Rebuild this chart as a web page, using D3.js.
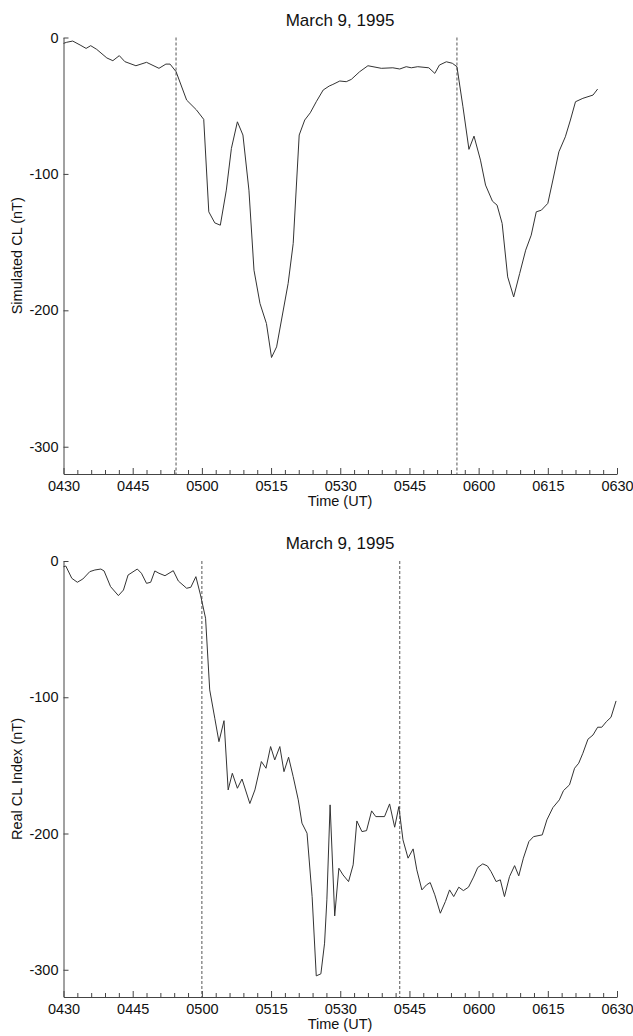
<!DOCTYPE html>
<html>
<head>
<meta charset="utf-8">
<script src="https://cdn.jsdelivr.net/npm/d3@7"></script>
<style>
  html, body { margin: 0; padding: 0; background: #fff; }
  svg { display: block; }
  text { font-family: "Liberation Sans", Arial, Helvetica, sans-serif; fill: #111; }
</style>
</head>
<body>
<svg id="chart" width="633" height="1036"></svg>
<script>
// ---------- DATA ----------
const titleText = "March 9, 1995";
const xLabelText = "Time (UT)";
const yLabelTop = "Simulated CL (nT)";
const yLabelBottom = "Real CL Index (nT)";

// x tick labels (UT), positions in minutes of day
const xTickLabels = ["0430", "0445", "0500", "0515", "0530", "0545", "0600", "0615", "0630"];
const yTickValues = [0, -100, -200, -300];

// Simulated CL: time (minutes of day) and value (nT)
const simTime = [270.0, 270.7, 272.0, 273.6, 274.9, 275.9, 277.2, 279.4, 280.7, 282.1,
  283.3, 285.7, 288.0, 290.7, 292.2, 293.1, 294.4, 296.7, 298.8, 300.4,
  301.5, 302.8, 304.0, 305.3, 306.4, 307.7, 308.9, 310.2, 311.3, 312.6,
  314.0, 315.1, 316.2, 318.7, 319.8, 321.1, 322.3, 323.5, 324.8, 326.3,
  327.6, 328.4, 329.9, 331.3, 332.4, 334.2, 336.0, 338.9, 341.4, 342.9,
  344.3, 345.4, 346.8, 349.2, 350.5, 351.5, 353.0, 354.3, 355.3, 356.6,
  357.9, 359.0, 360.4, 361.5, 363.0, 364.0, 365.1, 366.3, 367.6, 368.9,
  370.2, 371.4, 372.5, 373.6, 375.0, 376.1, 377.4, 378.8, 379.9, 381.0,
  382.6, 384.8, 385.8];
const simCL = [-4.3, -3.5, -2.6, -5.5, -8, -6, -8.7, -15, -17, -13.3,
  -17.7, -20.7, -18.2, -22.6, -19.5, -19.5, -25, -45.9, -53, -60,
  -127.8, -135.9, -137.6, -111.9, -81.3, -61.8, -71.5, -111.9, -170.6, -195,
  -209.7, -234.6, -226.8, -180.3, -151, -71.5, -60.5, -55.2, -47.1, -38.5,
  -35.6, -34.4, -31.9, -32.4, -30.7, -25.1, -20.7, -22.6, -22.2, -23.1,
  -21.4, -22.2, -21.4, -22.2, -26.3, -20.2, -17.8, -18.9, -21.4, -50.8,
  -82, -72.3, -89.9, -108.2, -120, -122.9, -136.3, -175.5, -190.2, -173,
  -155.9, -144.9, -127.8, -126.6, -121.6, -104.5, -83.8, -72.8, -60.5, -47.1,
  -44.6, -42.2, -37.8];

// Real CL index: time (minutes of day) and value (nT)
const realTime = [270.0, 270.5, 271.8, 273.0, 274.2, 275.7, 276.8, 278.1, 278.8, 280.2,
  281.9, 283.0, 284.0, 286.0, 286.9, 288.0, 288.9, 289.8, 290.7, 292.0,
  293.8, 294.9, 296.7, 297.6, 298.7, 299.7, 300.8, 301.7, 302.8, 303.7,
  304.8, 305.7, 306.6, 307.7, 308.7, 310.4, 311.5, 312.9, 313.9, 314.9,
  315.8, 316.9, 317.8, 318.8, 319.8, 320.9, 321.7, 322.8, 323.9, 324.8,
  325.8, 326.6, 327.1, 327.8, 328.8, 329.7, 330.6, 331.8, 332.8, 333.6,
  334.7, 335.7, 336.8, 337.7, 339.6, 340.7, 341.8, 342.7, 343.6, 344.7,
  345.8, 346.6, 347.7, 348.7, 349.5, 350.5, 351.7, 352.8, 353.7, 354.6,
  355.7, 356.7, 357.8, 358.9, 359.8, 360.9, 361.9, 362.7, 363.8, 364.7,
  365.6, 366.7, 367.8, 368.7, 369.7, 370.9, 371.9, 373.8, 374.8, 376.1,
  377.5, 378.4, 379.7, 380.8, 381.7, 382.6, 383.7, 384.8, 385.8, 386.7,
  387.7, 388.7, 389.8];
const realCL = [-4.2, -3.7, -12.7, -15.6, -13.2, -7.8, -6.6, -5.9, -7.3, -18.8,
  -25.4, -21.3, -10.3, -5.9, -9, -16.4, -15.6, -7.3, -9, -10.8,
  -7.1, -14.7, -20, -19.3, -11.5, -24.9, -42, -94.6, -115.4, -132.6,
  -117.2, -168, -155.8, -166.8, -160, -178, -168, -147.2, -152.1, -136.2,
  -146, -136.2, -154.6, -144, -158.3, -175.3, -192.4, -199.8, -246.3, -304.5,
  -303, -280.5, -248.7, -179, -260.5, -225.5, -230.4, -235.3, -223, -190.8,
  -198.6, -197.9, -183.4, -187.6, -187.6, -178.3, -195.4, -180.3, -204.7, -218.1,
  -211.3, -226.7, -241.4, -237.7, -236, -245, -258.5, -249.9, -241.4, -246.3,
  -239.4, -241.9, -239.4, -232, -225, -222.3, -223.8, -228, -235.3, -234,
  -246.3, -231.6, -223.6, -231.1, -218.1, -205.9, -202.3, -201, -190, -181,
  -175.3, -168.5, -164.3, -152.1, -148.4, -141.1, -130.8, -127.7, -122, -122,
  -117.9, -114.7, -102.7];

// dashed marker times (minutes of day)
const simMarkers = [294.4, 355.3];
const realMarkers = [300.0, 342.9];

// ---------- DRAW ----------
const svg = d3.select("#chart");
const xDomain = [270, 390];
const yDomain = [-320, 0];
const labelToMin = s => +s.slice(0, 2) * 60 + +s.slice(2);
const majorTicks = xTickLabels.map(labelToMin);
const minorTicks = d3.range(xDomain[0], xDomain[1] + 0.001, 3).filter(t => !majorTicks.includes(t));

function panel(cfg) {
  const x = d3.scaleLinear().domain(xDomain).range([63.5, 617]);
  const y = d3.scaleLinear().domain(yDomain).range([cfg.bottom, cfg.top]);
  const g = svg.append("g");

  // x axis minor ticks
  g.append("g")
    .attr("transform", `translate(0,${cfg.bottom})`)
    .call(d3.axisBottom(x).tickValues(minorTicks).tickSize(-4).tickSizeOuter(0).tickFormat(""))
    .call(a => a.select(".domain").remove());
  // x axis major ticks + labels
  g.append("g")
    .attr("transform", `translate(0,${cfg.bottom})`)
    .call(d3.axisBottom(x).tickValues(majorTicks).tickSize(-6).tickSizeOuter(0).tickPadding(7)
      .tickFormat((d, i) => xTickLabels[i]));
  // y axis
  g.append("g")
    .attr("transform", `translate(63.5,0)`)
    .call(d3.axisLeft(y).tickValues(yTickValues).tickSize(-5).tickSizeOuter(0).tickPadding(5)
      .tickFormat(d => String(d)));

  g.selectAll(".domain").attr("stroke", "#444").attr("stroke-width", 1);
  g.selectAll(".tick line").attr("stroke", "#444").attr("stroke-width", 1);
  g.selectAll(".tick text").attr("font-size", 14.5).attr("fill", "#111")
    .style("font-family", '"Liberation Sans", Arial, sans-serif');

  // dashed markers
  g.selectAll("line.marker").data(cfg.markers).join("line")
    .attr("class", "marker")
    .attr("x1", d => x(d)).attr("x2", d => x(d))
    .attr("y1", y(0)).attr("y2", y(-320))
    .attr("stroke", "#555").attr("stroke-width", 1).attr("stroke-dasharray", "3,2");

  // data line
  const line = d3.line().x(d => x(d[0])).y(d => y(d[1]));
  g.append("path")
    .datum(cfg.time.map((t, i) => [t, cfg.values[i]]))
    .attr("d", line)
    .attr("fill", "none").attr("stroke", "#333").attr("stroke-width", 1);

  // title
  g.append("text").attr("x", 340).attr("y", cfg.top - 12)
    .attr("text-anchor", "middle").attr("font-size", 17).text(titleText);
  // x label
  g.append("text").attr("x", 340).attr("y", cfg.bottom + 32)
    .attr("text-anchor", "middle").attr("font-size", 14.5).text(xLabelText);
  // y label
  g.append("text")
    .attr("transform", `translate(22,${(cfg.top + cfg.bottom) / 2}) rotate(-90)`)
    .attr("text-anchor", "middle").attr("font-size", 14.5).text(cfg.yLabel);
}

panel({ top: 37.5, bottom: 474, time: simTime, values: simCL, markers: simMarkers, yLabel: yLabelTop });
panel({ top: 561, bottom: 997, time: realTime, values: realCL, markers: realMarkers, yLabel: yLabelBottom });
</script>
</body>
</html>
